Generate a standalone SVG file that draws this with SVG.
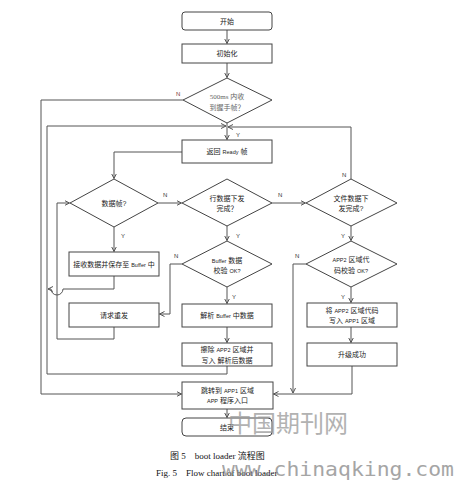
<svg xmlns="http://www.w3.org/2000/svg" width="454" height="482" viewBox="0 0 454 482">
<style>
.box{fill:#fff;stroke:#444;stroke-width:1}
.ln{fill:none;stroke:#555;stroke-width:1}
.t{font-family:"Liberation Sans","Noto Sans CJK SC",sans-serif;font-size:7px;fill:#222;text-anchor:middle}
.s{font-size:5.5px}
.g{fill:#666;font-family:"Liberation Serif","Noto Sans CJK SC",serif}
.lab{font-family:"Liberation Sans",sans-serif;font-size:6px;fill:#333}
.n{fill:#733}
.cap{font-family:"Liberation Serif","Noto Sans CJK SC",serif;font-size:9px;fill:#111}
</style>
<defs>
<marker id="a" markerWidth="6" markerHeight="6" refX="5" refY="3" orient="auto" markerUnits="userSpaceOnUse">
<path d="M0,0.5 L5,3 L0,5.5" fill="none" stroke="#555" stroke-width="1"/>
</marker>
</defs>
<rect width="454" height="482" fill="#fff"/>
<g id="connectors">
<path class="ln" d="M227,30 V43.5" marker-end="url(#a)"/>
<path class="ln" d="M227,63 V77.5" marker-end="url(#a)"/>
<path class="ln" d="M227,123 V139.5" marker-end="url(#a)"/>
<path class="ln" d="M183,100 H41 V394 H181.5" marker-end="url(#a)"/>
<path class="ln" d="M227,366 V374 H47 V126 H226" marker-end="url(#a)"/>
<path class="ln" d="M351,179 V127 H228" marker-end="url(#a)"/>
<path class="ln" d="M182,152 H114 V178.5" marker-end="url(#a)"/>
<path class="ln" d="M158,203 H181.5" marker-end="url(#a)"/>
<path class="ln" d="M114,227 V251.5" marker-end="url(#a)"/>
<path class="ln" d="M114,276 V289 H63 A6,6 0 0 1 51,289 H48" marker-end="url(#a)"/>
<path class="ln" d="M114,327 V339 H57 V203 H69.5" marker-end="url(#a)"/>
<path class="ln" d="M272,203 H305.5" marker-end="url(#a)"/>
<path class="ln" d="M227,226 V240.5" marker-end="url(#a)"/>
<path class="ln" d="M182,264 H170 V314 H159.5" marker-end="url(#a)"/>
<path class="ln" d="M227,287 V303.5" marker-end="url(#a)"/>
<path class="ln" d="M227,327 V342.5" marker-end="url(#a)"/>
<path class="ln" d="M351,226 V240.5" marker-end="url(#a)"/>
<path class="ln" d="M306,264 H293 V393" marker-end="url(#a)"/>
<path class="ln" d="M351,287 V302.5" marker-end="url(#a)"/>
<path class="ln" d="M351,327 V342.5" marker-end="url(#a)"/>
<path class="ln" d="M352,366 V394 H273.5" marker-end="url(#a)"/>
<path class="ln" d="M227,409 V417.5" marker-end="url(#a)"/>
<text class="lab n" x="176" y="96">N</text>
<text class="lab" x="236" y="137">Y</text>
<text class="lab" x="163" y="197">N</text>
<text class="lab" x="278" y="197">N</text>
<text class="lab" x="342" y="177">N</text>
<text class="lab" x="121" y="238">Y</text>
<text class="lab" x="236" y="238">Y</text>
<text class="lab" x="341" y="238">Y</text>
<text class="lab" x="174" y="258">N</text>
<text class="lab" x="295" y="258">N</text>
<text class="lab" x="232" y="299">Y</text>
<text class="lab" x="341" y="299">Y</text>
</g>
<g id="start"><rect class="box" x="182" y="12" width="90" height="18" rx="3"/><text class="t" x="227" y="23.5">开始</text></g>
<g id="init"><rect class="box" x="182" y="44" width="90" height="19"/><text class="t" x="227" y="56">初始化</text></g>
<g id="d-handshake"><polygon class="box" points="227,78 272,100 227,123 183,100"/><text class="t g" x="227" y="99">500ms 内收</text><text class="t g" x="227" y="110">到握手帧？</text></g>
<g id="ready"><rect class="box" x="182" y="140" width="90" height="23"/><text class="t" x="227" y="154">返回 <tspan class="s">Ready</tspan> 帧</text></g>
<g id="d-data"><polygon class="box" points="114,179 158,203 114,227 70,203"/><text class="t" x="114" y="205.5">数据帧?</text></g>
<g id="d-row"><polygon class="box" points="227,179 272,203 227,226 182,203"/><text class="t" x="227" y="201">行数据下发</text><text class="t" x="227" y="211">完成？</text></g>
<g id="d-file"><polygon class="box" points="351,179 397,203 351,226 306,203"/><text class="t" x="351" y="201">文件数据下</text><text class="t" x="351" y="211">发完成?</text></g>
<g id="recv"><rect class="box" x="69" y="252" width="90" height="24"/><text class="t" x="114" y="266.5">接收数据并保存至 <tspan class="s">Buffer</tspan> 中</text></g>
<g id="d-buf"><polygon class="box" points="227,241 272,264 227,287 182,264"/><text class="t" x="227" y="262.5"><tspan class="s">Buffer</tspan> 数据</text><text class="t" x="227" y="273"><tspan>校验 </tspan><tspan class="s">OK?</tspan></text></g>
<g id="d-app2"><polygon class="box" points="351,241 397,264 351,287 306,264"/><text class="t" x="351" y="262"><tspan class="s">APP2</tspan> 区域代</text><text class="t" x="351" y="272.5">码校验 <tspan class="s">OK?</tspan></text></g>
<g id="retry"><rect class="box" x="69" y="303" width="90" height="24"/><text class="t" x="114" y="317.5">请求重发</text></g>
<g id="parse"><rect class="box" x="182" y="304" width="90" height="23"/><text class="t" x="227" y="318">解析 <tspan class="s">Buffer</tspan> 中数据</text></g>
<g id="erase"><rect class="box" x="182" y="343" width="90" height="23"/><text class="t" x="227" y="351.5">擦除 <tspan class="s">APP2</tspan> 区域并</text><text class="t" x="227" y="362.5">写入 解析后数据</text></g>
<g id="copy"><rect class="box" x="307" y="303" width="90" height="24"/><text class="t" x="352" y="313">将 <tspan class="s">APP2</tspan> 区域代码</text><text class="t" x="352" y="323">写入 <tspan class="s">APP1</tspan> 区域</text></g>
<g id="success"><rect class="box" x="307" y="343" width="90" height="23"/><text class="t" x="352" y="357">升级成功</text></g>
<g id="jump"><rect class="box" x="182" y="382" width="91" height="27"/><text class="t" x="227.5" y="392.5">跳转到 <tspan class="s">APP1</tspan> 区域</text><text class="t" x="227.5" y="403"><tspan class="s">APP</tspan> 程序入口</text></g>
<g id="end"><rect class="box" x="182" y="418" width="90" height="18" rx="4"/><text class="t" x="227" y="429.5">结束</text></g>
<g id="caption">
<text class="cap" x="170" y="459">图 5　boot loader 流程图</text>
<text class="cap" x="156" y="476">Fig. 5　Flow chart of boot loader</text>
</g>
<g id="watermark" opacity="0.75">
<text x="228" y="432" style="font-family:'Noto Sans CJK SC',sans-serif;font-size:24px;fill:#999">中国期刊网</text>
<text x="222" y="476" textLength="232" lengthAdjust="spacingAndGlyphs" style="font-family:'DejaVu Sans Mono',monospace;font-size:19px;fill:#888">www.chinaqking.com</text>
</g>
</svg>
